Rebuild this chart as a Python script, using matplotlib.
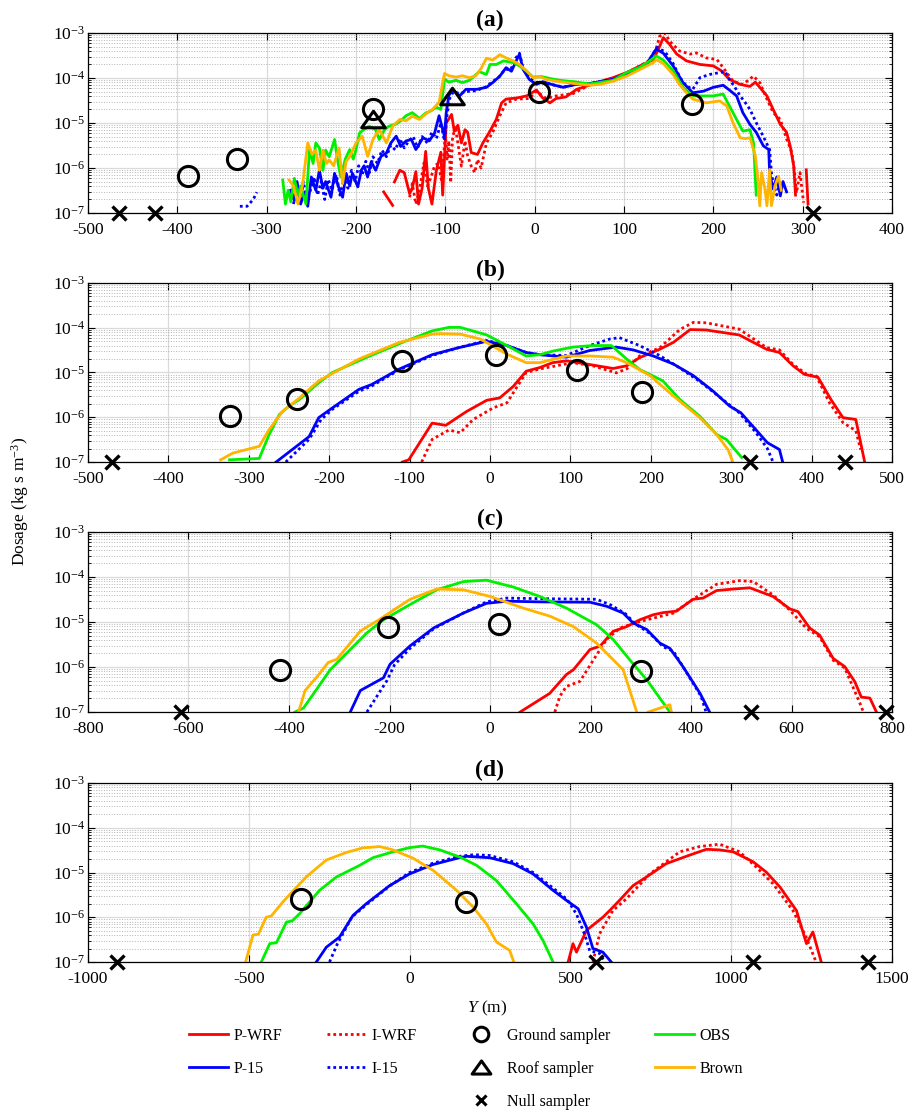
import matplotlib.pyplot as plt
import numpy as np
from matplotlib.lines import Line2D
from matplotlib.path import Path
from matplotlib.ticker import LogLocator, NullFormatter, MultipleLocator

plt.rcParams['font.family'] = 'Liberation Serif'
plt.rcParams['mathtext.fontset'] = 'custom'
plt.rcParams['mathtext.rm'] = 'Liberation Serif'
plt.rcParams['mathtext.it'] = 'Liberation Serif:italic'
plt.rcParams['mathtext.bf'] = 'Liberation Serif:bold'
plt.rcParams['axes.unicode_minus'] = False

nan = np.nan

### panel (a)
pwrf_a_y = [-169, -159, nan, -157, -151, -146, -140, -137, -133, -130, -126, -122, -119, -115, -110, -105, -103, -99,
            -93, -90, -86, -82, -78, -75, -71, -64, -58, -50, -43, -37, -32, -20, -9, 2, 9, 17, 24, 35, 47, 58, 69, 88,
            103, 118, 133, 140, 144, 151, 159, 170, 185, 200, 209, 218, 230, 241, 247, 252, 260, 267, 275, 282, 286,
            290, 292, nan, 304, 306]
pwrf_a_d = [2.95e-7, 1.48e-7, nan, 4.9e-7, 8.9e-7, 7.9e-7, 2.7e-7, 3.55e-7, 8.3e-7, 1.58e-7, 3.55e-7, 2.34e-6,
            3.55e-7, 1.58e-7, 8.9e-7, 2.24e-6, 2.5e-7, 1.0e-5, 1.55e-5, 6.6e-6, 8.9e-6, 3.6e-6, 7.1e-6, 6.2e-6,
            2.2e-6, 2.0e-6, 3.6e-6, 6.6e-6, 1.2e-5, 2.8e-5, 3.4e-5, 3.6e-5, 4.0e-5, 5.4e-5, 3.6e-5, 2.8e-5, 3.5e-5,
            3.8e-5, 5.6e-5, 6.6e-5, 7.9e-5, 1.02e-4, 1.32e-4, 1.86e-4, 2.57e-4, 5.1e-4, 7.9e-4, 5.6e-4, 3.4e-4,
            2.4e-4, 2.0e-4, 1.86e-4, 1.45e-4, 9.3e-5, 7.2e-5, 6.5e-5, 8.1e-5, 6.2e-5, 4.0e-5, 2.0e-5, 9.3e-6,
            6.2e-6, 3.1e-6, 1.1e-6, 2.5e-7, nan, 9.1e-7, 1.58e-7]

iwrf_a_y = [-140, -137, -133, -129, -124, -120, -116, -112, -108, -104, -100, -98, -96, -94, -92, -89, -86, -82,
            -78, -75, -71, -67, -64, -60, -54, -47, -39, -32, -20, -6, 2, 13, 24, 43, 62, 88, 103, 118, 133, 140,
            146, 151, 162, 174, 181, 192, 204, 211, 222, 233, 245, 252, 260, 267, 275, 282, 288, 291, 293, 297, 301]
iwrf_a_d = [2.24e-7, 4.5e-7, 1.58e-7, 3.2e-7, 1.29e-6, 4.0e-7, 6.3e-7, 1.12e-6, 1.26e-6, 5.0e-7, 6.0e-6, 1.58e-6,
            4.0e-6, 4.7e-7, 4.4e-6, 8.5e-6, 3.6e-6, 1.1e-6, 4.0e-6, 1.86e-6, 1.1e-6, 7.9e-7, 1.55e-6, 1.0e-6,
            3.6e-6, 6.2e-6, 1.45e-5, 2.8e-5, 3.4e-5, 3.5e-5, 5.1e-5, 3.5e-5, 4.0e-5, 4.5e-5, 7.1e-5, 1.0e-4,
            1.32e-4, 1.86e-4, 2.8e-4, 8.5e-4, 1.0e-3, 6.6e-4, 4.0e-4, 3.4e-4, 3.6e-4, 2.8e-4, 2.57e-4, 1.7e-4,
            8.5e-5, 7.2e-5, 1.1e-4, 7.9e-5, 3.4e-5, 1.7e-5, 1.2e-5, 4.4e-6, 2.2e-6, 7.9e-7, 2.8e-7, 7.9e-7, 1.7e-7]

p15_a_y = [-273, -269, -266, -262, -258, -254, -250, -245, -241, -237, -234, -228, -224, -220, -215, -211, -207,
           -204, -198, -194, -191, -187, -183, -178, -172, -166, -161, -155, -150, -144, -138, -133, -125, -118,
           -112, -107, -101, -99, -96, -92, -84, -77, -65, -54, -47, -39, -32, -26, -20, -17, -13, -6, 2, 9, 20,
           32, 45, 62, 88, 103, 118, 125, 136, 144, 155, 166, 177, 189, 200, 211, 218, 226, 233, 241, 248, 256,
           262, 263, 267, 271, 275, 278, 282]
p15_a_d = [3.2e-7, 1.9e-7, 5.0e-7, 1.58e-7, 2.8e-7, 1.41e-7, 6.3e-7, 3.2e-7, 8.9e-7, 3.55e-7, 5.0e-7, 2.24e-7,
           7.6e-7, 4.0e-7, 2.24e-7, 7.6e-7, 4.0e-7, 7.6e-7, 3.8e-7, 8.9e-7, 1.12e-6, 6.3e-7, 1.38e-6, 8.9e-7,
           1.82e-6, 2.14e-6, 3.6e-6, 5.1e-6, 3.0e-6, 4.0e-6, 4.3e-6, 2.57e-6, 4.7e-6, 4.0e-6, 6.0e-6, 1.45e-5,
           5.1e-6, 1.7e-5, 4.1e-5, 5.6e-5, 4.0e-5, 5.6e-5, 5.6e-5, 6.2e-5, 7.9e-5, 1.1e-4, 1.7e-4, 1.41e-4,
           2.57e-4, 3.4e-4, 1.55e-4, 9.3e-5, 7.2e-5, 8.3e-5, 7.1e-5, 6.2e-5, 7.1e-5, 7.6e-5, 9.3e-5, 1.26e-4,
           1.74e-4, 2.0e-4, 4.4e-4, 3.55e-4, 1.86e-4, 7.9e-5, 4.7e-5, 5.1e-5, 6.2e-5, 6.9e-5, 5.4e-5, 4.0e-5,
           1.7e-5, 9.3e-6, 6.2e-6, 3.1e-6, 2.57e-6, 7.9e-7, 3.4e-7, 6.3e-7, 2.4e-7, 5.0e-7, 2.95e-7]

i15_a_y = [-330, -322, -315, -311, nan, -270, -266, -262, -259, -255, -251, -247, -243, -239, -235, -231, -227,
           -222, -218, -213, -209, -205, -201, -197, -193, -189, -185, -181, -176, -171, -166, -161, -156, -151,
           -146, -141, -136, -131, -126, -120, -115, -110, -105, -101, -98, -95, -91, -84, -76, -66, -55, -47, -40,
           -33, -27, -21, -17, -13, -6, 2, 10, 20, 32, 45, 62, 88, 103, 118, 126, 137, 146, 155, 163, 170, 177,
           185, 196, 207, 213, 218, 224, 230, 236, 241, 248, 256, 263, 265, 268, 271, 274]
i15_a_d = [1.41e-7, 1.41e-7, 2.0e-7, 2.9e-7, nan, 1.58e-7, 4.0e-7, 1.78e-7, 5.0e-7, 2.0e-7, 3.2e-7, 6.3e-7, 2.5e-7,
           5.0e-7, 2.0e-7, 5.6e-7, 3.2e-7, 7.1e-7, 2.5e-7, 6.3e-7, 3.55e-7, 8.9e-7, 5.0e-7, 1.12e-6, 7.1e-7,
           1.41e-6, 7.9e-7, 1.78e-6, 1.26e-6, 2.5e-6, 1.78e-6, 3.2e-6, 2.5e-6, 4.5e-6, 2.8e-6, 4.0e-6, 5.0e-6,
           2.8e-6, 5.0e-6, 3.55e-6, 6.3e-6, 4.5e-6, 1.0e-5, 4.0e-6, 1.58e-5, 3.55e-5, 5.0e-5, 4.5e-5, 5.0e-5,
           5.2e-5, 6.3e-5, 8.3e-5, 1.05e-4, 1.58e-4, 1.51e-4, 2.8e-4, 3.55e-4, 1.66e-4, 1.0e-4, 7.9e-5, 7.9e-5,
           7.1e-5, 6.3e-5, 7.1e-5, 7.6e-5, 9.3e-5, 1.26e-4, 1.74e-4, 2.1e-4, 4.8e-4, 3.8e-4, 2.1e-4, 1.0e-4,
           6.6e-5, 5.6e-5, 1.02e-4, 1.2e-4, 1.32e-4, 1.41e-4, 9.3e-5, 6.3e-5, 4.0e-5, 2.8e-5, 2.0e-5, 1.02e-5,
           5.0e-6, 2.57e-6, 7.9e-7, 3.55e-7, 2.5e-7, 5.0e-7]

obs_a_y = [-282, -279, -276, -273, -269, -265, -262, -256, -252, -248, -245, -241, -237, -234, -230, -224, -220,
           -217, -212, -207, -203, -200, -196, -191, -185, -178, -174, -168, -163, -155, -150, -144, -137, -129,
           -122, -116, -110, -105, -101, -96, -88, -81, -73, -62, -54, -50, -43, -35, -24, -17, -9, -2, 8, 20, 28,
           43, 62, 88, 103, 118, 130, 136, 144, 155, 166, 177, 189, 200, 211, 218, 226, 233, 241, 245, 248]
obs_a_d = [5.4e-7, 1.58e-7, 3.2e-7, 1.78e-7, 5.9e-7, 2.5e-7, 4.0e-7, 1.58e-7, 2.57e-6, 1.26e-6, 3.6e-6, 2.8e-6,
           8.9e-7, 2.5e-6, 1.78e-6, 4.3e-6, 1.26e-6, 6.3e-7, 1.58e-6, 2.57e-6, 1.58e-6, 2.57e-6, 6.0e-6, 7.2e-6,
           8.5e-6, 7.1e-6, 4.3e-6, 7.1e-6, 8.5e-6, 9.5e-6, 1.12e-5, 1.45e-5, 1.7e-5, 1.26e-5, 1.66e-5, 1.86e-5,
           2.24e-5, 2.0e-5, 9.5e-5, 8.1e-5, 8.9e-5, 7.9e-5, 8.9e-5, 1.38e-4, 1.2e-4, 2.0e-4, 2.0e-4, 2.4e-4,
           2.2e-4, 1.86e-4, 1.41e-4, 1.05e-4, 1.07e-4, 9.5e-5, 8.9e-5, 8.3e-5, 7.4e-5, 8.9e-5, 1.32e-4, 1.74e-4,
           2.5e-4, 3.1e-4, 2.5e-4, 1.45e-4, 6.2e-5, 4.0e-5, 4.0e-5, 4.0e-5, 4.4e-5, 2.4e-5, 1.2e-5, 6.6e-6,
           7.1e-6, 3.6e-6, 2.5e-7]

brown_a_y = [-275, -270, -265, -260, -254, -249, -245, -241, -237, -233, -230, -225, -219, -215, -211, -207, -200,
             -193, -187, -181, -174, -166, -159, -151, -144, -137, -129, -122, -114, -107, -101, -96, -88, -81, -73,
             -66, -60, -54, -47, -39, -32, -24, -17, -9, -2, 6, 13, 24, 36, 47, 62, 73, 88, 103, 118, 133, 136,
             144, 155, 162, 170, 177, 192, 207, 215, 222, 230, 236, 241, 247, 250, 252, 254, 258, 260, 263, 265,
             269, 273, 276]
brown_a_d = [5.4e-7, 4.0e-7, 1.58e-7, 4.0e-7, 3.6e-6, 2.0e-6, 2.5e-6, 8.9e-7, 2.5e-6, 1.26e-6, 1.51e-6, 1.12e-6,
             2.8e-6, 4.5e-7, 1.41e-6, 1.78e-6, 3.6e-6, 5.1e-6, 1.82e-6, 4.3e-6, 7.2e-6, 3.6e-6, 8.5e-6, 1.2e-5,
             1.12e-5, 1.41e-5, 1.2e-5, 1.58e-5, 2.04e-5, 2.9e-5, 1.26e-4, 1.12e-4, 1.05e-4, 1.12e-4, 1.02e-4,
             1.12e-4, 1.62e-4, 2.75e-4, 2.5e-4, 3.3e-4, 2.8e-4, 2.4e-4, 2.0e-4, 1.45e-4, 1.02e-4, 1.07e-4, 9.3e-5,
             8.5e-5, 7.9e-5, 7.4e-5, 6.9e-5, 7.2e-5, 8.5e-5, 1.1e-4, 1.55e-4, 2.2e-4, 2.57e-4, 2.1e-4, 1.2e-4,
             7.2e-5, 4.7e-5, 3.4e-5, 2.8e-5, 3.1e-5, 2.4e-5, 1.02e-5, 4.7e-6, 4.5e-6, 4.7e-6, 1.86e-6, 5.6e-7,
             1.45e-7, 7.9e-7, 3.2e-7, 1.45e-7, 9.3e-7, 1.45e-7, 4.0e-7, 6.6e-7, 3.2e-7]

ground_a_y = [-388, -333, -181, 5, 176]
ground_a_d = [6.6e-7, 1.6e-6, 2.0e-5, 4.9e-5, 2.7e-5]
roof_a_y = [-181, -92]
roof_a_d = [1.2e-5, 3.9e-5]
null_a_y = [-465, -425, 312]

### panel (b)
pwrf_b_y = [-109, -101, -72, -55, -40, -29, -4, 12, 29, 45, 62, 78, 95, 120, 153, 170, 186, 211, 228, 249, 269,
            310, 344, 360, 377, 391, 408, 424, 439, 455, 466]
pwrf_b_d = [1.0e-7, 1.12e-7, 7.4e-7, 6.6e-7, 1.0e-6, 1.35e-6, 2.4e-6, 2.7e-6, 4.9e-6, 1.07e-5, 1.29e-5, 1.66e-5,
            1.82e-5, 1.55e-5, 1.23e-5, 1.41e-5, 2.14e-5, 3.3e-5, 4.7e-5, 9.1e-5, 8.9e-5, 6.9e-5, 3.3e-5, 2.8e-5,
            1.41e-5, 9.1e-6, 7.8e-6, 2.5e-6, 9.8e-7, 8.9e-7, 1.0e-7]
iwrf_b_y = [-85, -72, -51, -37, -21, 4, 21, 45, 62, 103, 128, 157, 170, 186, 211, 236, 253, 269, 310, 344, 360,
            377, 394, 406, 422, 439, 455, 461]
iwrf_b_d = [1.0e-7, 3.2e-7, 5.2e-7, 4.5e-7, 8.9e-7, 1.62e-6, 2.1e-6, 1.0e-5, 1.2e-5, 1.66e-5, 1.41e-5, 9.8e-6,
            1.2e-5, 2.34e-5, 3.55e-5, 9.1e-5, 1.32e-4, 1.29e-4, 9.3e-5, 3.6e-5, 3.2e-5, 1.51e-5, 9.1e-6, 8.3e-6,
            2.14e-6, 7.6e-7, 5.0e-7, 1.9e-7]
p15_b_y = [-266, -225, -213, -196, -163, -147, -114, -72, -40, -4, 21, 45, 62, 95, 124, 157, 178, 203, 228, 253,
           277, 298, 312, 331, 345, 360, 364]
p15_b_d = [1.0e-7, 3.7e-7, 9.8e-7, 1.62e-6, 4.2e-6, 5.4e-6, 1.17e-5, 2.5e-5, 3.55e-5, 5.0e-5, 4.0e-5, 2.8e-5,
           2.5e-5, 2.2e-5, 3.1e-5, 3.7e-5, 3.2e-5, 2.34e-5, 1.55e-5, 8.5e-6, 3.9e-6, 1.78e-6, 1.26e-6, 5.2e-7,
           2.7e-7, 1.9e-7, 1.0e-7]
i15_b_y = [-254, -225, -210, -196, -163, -147, -114, -72, -40, -4, 21, 45, 62, 95, 124, 149, 161, 186, 211, 236,
           261, 286, 310, 331, 345, 352]
i15_b_d = [1.0e-7, 3.2e-7, 8.9e-7, 1.51e-6, 3.8e-6, 5.0e-6, 1.12e-5, 2.4e-5, 3.55e-5, 5.2e-5, 4.0e-5, 2.8e-5,
           2.5e-5, 2.4e-5, 4.0e-5, 5.6e-5, 6.0e-5, 4.0e-5, 2.4e-5, 1.26e-5, 6.3e-6, 2.8e-6, 1.26e-6, 4.5e-7,
           2.0e-7, 1.0e-7]
obs_b_y = [-324, -287, -275, -262, -250, -237, -213, -196, -153, -109, -72, -51, -37, -4, 21, 45, 62, 78, 103, 128,
           151, 170, 186, 215, 236, 261, 282, 294, 313]
obs_b_d = [1.12e-7, 1.2e-7, 4.0e-7, 1.15e-6, 1.78e-6, 2.5e-6, 5.9e-6, 1.0e-5, 2.2e-5, 4.7e-5, 8.5e-5, 1.02e-4,
           1.02e-4, 6.9e-5, 4.0e-5, 2.34e-5, 2.5e-5, 3.0e-5, 3.7e-5, 4.0e-5, 4.0e-5, 2.0e-5, 1.17e-5, 6.5e-6,
           2.5e-6, 1.05e-6, 4.1e-7, 3.2e-7, 1.26e-7]
brown_b_y = [-335, -320, -287, -275, -258, -237, -213, -163, -113, -72, -62, -37, -12, 21, 45, 62, 95, 124, 153, 170,
             199, 228, 261, 282, 296, 302]
brown_b_d = [1.12e-7, 1.58e-7, 2.24e-7, 5.2e-7, 1.35e-6, 2.7e-6, 6.5e-6, 2.0e-5, 4.7e-5, 7.2e-5, 7.4e-5, 7.2e-5,
             5.6e-5, 2.57e-5, 1.66e-5, 1.66e-5, 2.34e-5, 2.34e-5, 2.2e-5, 1.66e-5, 8.5e-6, 3.0e-6, 9.8e-7, 4.1e-7,
             1.9e-7, 1.0e-7]
ground_b_y = [-324, -240, -109, 7, 108, 189]
ground_b_d = [1.05e-6, 2.6e-6, 1.8e-5, 2.4e-5, 1.15e-5, 3.6e-6]
null_b_y = [-470, 323, 442]

### panel (c)
pwrf_c_y = [60, 119, 152, 166, 199, 219, 245, 272, 298, 325, 345, 371, 404, 424, 451, 484, 517, 563, 597, 613, 636,
            656, 683, 706, 726, 739, 756, 769]
pwrf_c_d = [1.0e-7, 2.6e-7, 6.8e-7, 8.7e-7, 2.45e-6, 2.9e-6, 6.2e-6, 7.9e-6, 1.12e-5, 1.45e-5, 1.62e-5, 1.74e-5,
            3.2e-5, 3.4e-5, 5.0e-5, 5.4e-5, 5.75e-5, 3.7e-5, 1.95e-5, 1.7e-5, 7.4e-6, 5.1e-6, 1.55e-6, 1.02e-6,
            4.7e-7, 2.14e-7, 2.04e-7, 1.0e-7]
iwrf_c_y = [129, 139, 152, 179, 206, 232, 259, 298, 365, 404, 451, 497, 524, 563, 597, 630, 656, 683, 706, 736, 743]
iwrf_c_d = [1.0e-7, 2.24e-7, 3.7e-7, 4.8e-7, 1.45e-6, 4.1e-6, 7.4e-6, 1.02e-5, 1.58e-5, 3.2e-5, 6.9e-5, 8.3e-5,
            7.9e-5, 4.0e-5, 1.82e-5, 7.2e-6, 4.7e-6, 1.41e-6, 9.5e-7, 1.58e-7, 1.0e-7]
p15_c_y = [-278, -258, -212, -199, -159, -112, -53, -7, 33, 99, 199, 232, 265, 285, 312, 338, 358, 384, 418, 437]
p15_c_d = [1.0e-7, 3.0e-7, 5.75e-7, 1.15e-6, 2.95e-6, 7.4e-6, 1.58e-5, 2.6e-5, 2.9e-5, 2.8e-5, 2.75e-5, 2.24e-5,
           1.58e-5, 9.5e-6, 6.8e-6, 3.4e-6, 2.6e-6, 1.02e-6, 2.6e-7, 1.0e-7]
i15_c_y = [-245, -205, -190, -159, -112, -53, -7, 33, 99, 212, 240, 270, 290, 318, 345, 365, 390, 420, 430]
i15_c_d = [1.0e-7, 5.0e-7, 1.12e-6, 2.6e-6, 7.1e-6, 1.58e-5, 2.8e-5, 3.4e-5, 3.3e-5, 3.2e-5, 2.4e-5, 1.51e-5,
           8.9e-6, 5.6e-6, 2.8e-6, 2.24e-6, 7.9e-7, 2.24e-7, 1.0e-7]
obs_c_y = [-388, -371, -345, -318, -278, -245, -212, -159, -106, -53, -7, 46, 99, 152, 212, 245, 278, 312, 345, 358]
obs_c_d = [1.0e-7, 1.23e-7, 3.2e-7, 8.7e-7, 2.45e-6, 5.75e-6, 1.12e-5, 2.45e-5, 5.2e-5, 7.9e-5, 8.5e-5, 6.0e-5,
           3.7e-5, 2.04e-5, 8.7e-6, 4.1e-6, 1.45e-6, 5.2e-7, 1.58e-7, 1.0e-7]
brown_c_y = [-381, -368, -342, -322, -305, -258, -225, -159, -106, -53, 0, 66, 119, 166, 212, 265, 292, nan, 315,
             358, 361]
brown_c_d = [1.0e-7, 3.0e-7, 6.5e-7, 1.26e-6, 1.48e-6, 6.3e-6, 1.05e-5, 3.2e-5, 5.4e-5, 5.2e-5, 3.7e-5, 2.04e-5,
             1.35e-5, 7.9e-6, 3.4e-6, 8.7e-7, 1.0e-7, nan, 1.0e-7, 1.45e-7, 1.0e-7]
ground_c_y = [-418, -203, 18, 300]
ground_c_d = [8.5e-7, 7.6e-6, 8.8e-6, 8.0e-7]
null_c_y = [-614, 520, 789]

### panel (d)
pwrf_d_y = [493, 508, 519, 550, 601, 622, 653, 695, 736, 798, 871, 923, 964, 1006, 1068, 1109, 1151, 1203, 1234,
            1254, 1280]
pwrf_d_d = [1.0e-7, 2.57e-7, 1.66e-7, 5.1e-7, 1.0e-6, 1.41e-6, 2.4e-6, 5.1e-6, 7.9e-6, 1.58e-5, 2.45e-5, 3.3e-5,
            3.2e-5, 2.9e-5, 1.74e-5, 1.02e-5, 4.8e-6, 1.41e-6, 2.57e-7, 4.7e-7, 1.0e-7]
iwrf_d_y = [570, 591, 632, 674, 747, 840, 902, 964, 1026, 1078, 1130, 1192, 1233, 1264]
iwrf_d_d = [1.0e-7, 4.3e-7, 1.41e-6, 2.57e-6, 9.3e-6, 2.9e-5, 3.8e-5, 4.3e-5, 2.9e-5, 1.32e-5, 5.6e-6, 1.41e-6,
            3.6e-7, 1.0e-7]
p15_d_y = [-290, -259, -218, -176, -135, -62, 0, 73, 155, 177, 249, 322, 384, 446, 487, 524, 550, 570, 601, 627]
p15_d_d = [1.0e-7, 2.14e-7, 3.6e-7, 1.1e-6, 2.0e-6, 5.1e-6, 9.3e-6, 1.51e-5, 2.14e-5, 2.3e-5, 2.14e-5, 1.58e-5,
           9.3e-6, 4.0e-6, 2.4e-6, 1.55e-6, 6.0e-7, 2.0e-7, 1.66e-7, 1.0e-7]
i15_d_y = [-249, -225, -180, -135, -62, 0, 73, 155, 200, 249, 322, 384, 446, 490, 519, 545, 560, 590, 607]
i15_d_d = [1.0e-7, 2.5e-7, 1.0e-6, 1.9e-6, 5.0e-6, 1.0e-5, 1.62e-5, 2.3e-5, 2.5e-5, 2.4e-5, 1.74e-5, 1.0e-5,
           4.5e-6, 2.5e-6, 1.17e-6, 4.0e-7, 1.78e-7, 1.58e-7, 1.0e-7]
obs_d_y = [-461, -435, -414, -383, -365, -342, -280, -228, -155, -114, -52, 0, 41, 94, 157, 208, 270, 332, 384, 415,
           446]
obs_d_d = [1.0e-7, 2.57e-7, 2.7e-7, 7.8e-7, 8.3e-7, 1.2e-6, 4.0e-6, 7.9e-6, 1.45e-5, 2.14e-5, 2.9e-5, 3.6e-5,
           3.9e-5, 3.2e-5, 2.2e-5, 1.45e-5, 6.6e-6, 2.0e-6, 7.1e-7, 3.0e-7, 1.0e-7]
brown_d_y = [-510, -487, -470, -446, -430, -394, -373, -322, -259, -197, -145, -93, -52, 10, 73, 146, 197, 239, 270,
             311, 324]
brown_d_d = [1.0e-7, 4.0e-7, 4.2e-7, 1.0e-6, 1.07e-6, 2.2e-6, 3.2e-6, 7.9e-6, 1.9e-5, 2.8e-5, 3.55e-5, 3.8e-5,
             3.2e-5, 2.1e-5, 1.12e-5, 4.0e-6, 1.7e-6, 7.1e-7, 2.8e-7, 1.82e-7, 1.0e-7]
ground_d_y = [-337, 175]
ground_d_d = [2.6e-6, 2.2e-6]
null_d_y = [-910, 581, 1068, 1425]

RED, BLUE, GREEN, ORANGE = '#ff0000', '#0000ff', '#00f000', '#ffb400'
DOT = (0, (1, 1.1))
LW = 2.0
NULL_D = 1e-7

# wide MATLAB-like triangle
tri = Path([(-1, -0.7), (1, -0.7), (0, 0.7), (-1, -0.7)], closed=True)

panels = [
    dict(title='(a)', xlim=(-500, 400), step=100,
         lines=[(pwrf_a_y, pwrf_a_d), (iwrf_a_y, iwrf_a_d), (p15_a_y, p15_a_d), (i15_a_y, i15_a_d),
                (obs_a_y, obs_a_d), (brown_a_y, brown_a_d)],
         ground=(ground_a_y, ground_a_d), roof=(roof_a_y, roof_a_d), null=null_a_y),
    dict(title='(b)', xlim=(-500, 500), step=100,
         lines=[(pwrf_b_y, pwrf_b_d), (iwrf_b_y, iwrf_b_d), (p15_b_y, p15_b_d), (i15_b_y, i15_b_d),
                (obs_b_y, obs_b_d), (brown_b_y, brown_b_d)],
         ground=(ground_b_y, ground_b_d), roof=None, null=null_b_y),
    dict(title='(c)', xlim=(-800, 800), step=200,
         lines=[(pwrf_c_y, pwrf_c_d), (iwrf_c_y, iwrf_c_d), (p15_c_y, p15_c_d), (i15_c_y, i15_c_d),
                (obs_c_y, obs_c_d), (brown_c_y, brown_c_d)],
         ground=(ground_c_y, ground_c_d), roof=None, null=null_c_y),
    dict(title='(d)', xlim=(-1000, 1500), step=500,
         lines=[(pwrf_d_y, pwrf_d_d), (iwrf_d_y, iwrf_d_d), (p15_d_y, p15_d_d), (i15_d_y, i15_d_d),
                (obs_d_y, obs_d_d), (brown_d_y, brown_d_d)],
         ground=(ground_d_y, ground_d_d), roof=None, null=null_d_y),
]
styles = [(RED, '-'), (RED, DOT), (BLUE, '-'), (BLUE, DOT), (GREEN, '-'), (ORANGE, '-')]

# axes boxes in pixels (top, bottom) of a 918x1111 figure
W, H = 918, 1111
boxes = [(33, 213), (283, 462), (532, 712), (783, 962)]

fig = plt.figure(figsize=(W / 100, H / 100), dpi=100)

for p, (top, bot) in zip(panels, boxes):
    ax = fig.add_axes([88 / W, 1 - bot / H, 804 / W, (bot - top) / H])
    for (xs, ds), (c, ls) in zip(p['lines'], styles):
        ax.plot(xs, ds, color=c, ls=ls, lw=LW)
    gy, gd = p['ground']
    ax.plot(gy, gd, ls='none', marker='o', ms=14.5, mfc='none', mec='k', mew=2.2, clip_on=False, zorder=5)
    if p['roof'] is not None:
        ry, rd = p['roof']
        ax.plot(ry, rd, ls='none', marker=tri, ms=17, mfc='none', mec='k', mew=2.2, clip_on=False, zorder=5)
    ax.plot(p['null'], [NULL_D] * len(p['null']), ls='none', marker='x', ms=10.5, mec='k', mew=2.4,
            clip_on=False, zorder=5)

    ax.set_yscale('log')
    ax.set_ylim(1e-7, 1e-3)
    ax.set_xlim(*p['xlim'])
    ax.xaxis.set_major_locator(MultipleLocator(p['step']))
    ax.yaxis.set_major_locator(LogLocator(base=10, numticks=10))
    ax.yaxis.set_minor_locator(LogLocator(base=10, subs=np.arange(2, 10), numticks=40))
    ax.yaxis.set_minor_formatter(NullFormatter())
    ax.grid(which='major', color='#dadada', lw=0.9)
    ax.grid(which='minor', axis='y', color='#b4b4b4', ls=':', lw=0.7)
    ax.set_axisbelow(True)
    ax.tick_params(which='both', direction='in', top=True, right=True, labelsize=12.5)
    ax.tick_params(which='major', length=5, width=0.8)
    ax.tick_params(which='minor', length=2.5, width=0.6)
    ax.tick_params(axis='y', pad=2)
    ax.tick_params(axis='x', pad=6.5)
    for s in ax.spines.values():
        s.set_linewidth(0.9)
    ax.set_title(p['title'], fontweight='bold', fontsize=17, pad=5)

fig.text(0.022, 0.549, 'Dosage (kg s m$^{-3}$)', rotation=90, ha='center', va='center', fontsize=12.5)
fig.text(487 / W, 1 - 1008 / H, '$Y$ (m)', ha='center', va='center', fontsize=12.5)

# legend
h_pwrf = Line2D([], [], color=RED, lw=LW)
h_iwrf = Line2D([], [], color=RED, lw=LW, ls=DOT)
h_p15 = Line2D([], [], color=BLUE, lw=LW)
h_i15 = Line2D([], [], color=BLUE, lw=LW, ls=DOT)
h_obs = Line2D([], [], color=GREEN, lw=LW)
h_brown = Line2D([], [], color=ORANGE, lw=LW)
h_gs = Line2D([], [], ls='none', marker='o', ms=10.5, mfc='none', mec='k', mew=2.2)
h_rs = Line2D([], [], ls='none', marker=tri, ms=13.5, mfc='none', mec='k', mew=2.2)
h_ns = Line2D([], [], ls='none', marker='x', ms=7.5, mec='k', mew=2.2)
blank = Line2D([], [], ls='none')

handles = [h_pwrf, h_p15, blank, h_iwrf, h_i15, blank, h_gs, h_rs, h_ns, h_obs, h_brown, blank]
labels = ['P-WRF', 'P-15', '', 'I-WRF', 'I-15', '', 'Ground sampler', 'Roof sampler', 'Null sampler',
          'OBS', 'Brown', '']
fig.legend(handles, labels, ncol=4, loc='upper left', bbox_to_anchor=(189 / W, 1 - 1028 / H),
           frameon=False, fontsize=11.5, handlelength=2.45, handletextpad=0.35, columnspacing=2.8,
           labelspacing=1.05, borderpad=0, borderaxespad=0)

fig.savefig('out.png', dpi=100)
# plt.show()
